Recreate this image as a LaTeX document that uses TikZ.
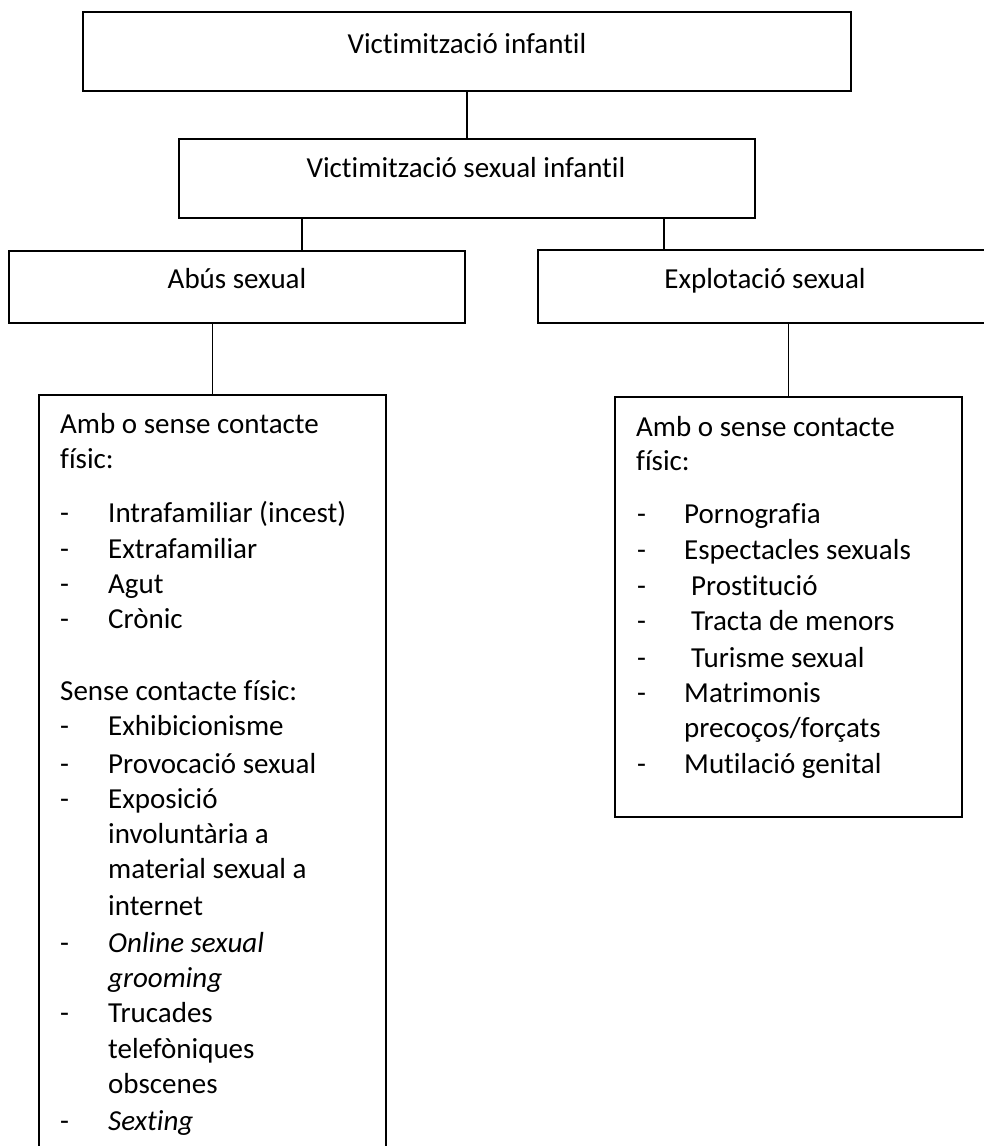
\documentclass[tikz,border=0pt]{standalone}
\usepackage{fontspec}
\setmainfont{Carlito}[Ligatures={NoCommon,TeX}]
\begin{document}
\begin{tikzpicture}[x=1pt,y=-1pt,
  boxnode/.style={draw=black, line width=1.4pt, rectangle, inner sep=0pt},
  conn/.style={draw=black, line width=1.2pt},
  txt/.style={anchor=base west, inner sep=0pt, font=\fontsize{29}{35.7}\selectfont},
  ctxt/.style={anchor=base, inner sep=0pt, font=\fontsize{29}{35.7}\selectfont}]
\useasboundingbox (0,0) rectangle (984,1146);
\clip (0,0) rectangle (984,1146);
% boxes
\node[boxnode, minimum width=768pt, minimum height=79pt] (top) at (467,51.5) {};
\node[boxnode, minimum width=576pt, minimum height=79pt] (sec) at (467,178.5) {};
\node[boxnode, minimum width=456pt, minimum height=72pt] (abus) at (237,287) {};
\node[boxnode, minimum width=470pt, minimum height=73pt] (expl) at (773,286.5) {};
\node[boxnode, minimum width=347pt, minimum height=785pt] (llA) at (212.5,787.5) {};
\node[boxnode, minimum width=347pt, minimum height=420pt] (llB) at (788.5,607) {};
% titles
\node[ctxt] (ttop) at (467,53) {Victimització infantil};
\node[ctxt] (tsec) at (466,177) {Victimització sexual infantil};
\node[ctxt] (tabus) at (237,288) {Abús sexual};
\node[ctxt] (texpl) at (765,288) {Explotació sexual};
% connectors
\coordinate (k1) at (302,0);
\coordinate (k2) at (664,0);
\draw[conn] (top.south) -- (sec.north);
\draw[conn] (k1 |- sec.south) -- (k1 |- abus.north);
\draw[conn] (k2 |- sec.south) -- (k2 |- expl.north);
\draw[conn] (llA.north |- abus.south) -- (llA.north);
\draw[conn] (llB.north |- expl.south) -- (llB.north);
% left list
\foreach \y/\x/\t [count=\i] in {
  433/60/{Amb o sense contacte},
  468/60/{físic:},
  522/108/{Intrafamiliar (incest)},
  558/108/{Extrafamiliar},
  593/108/{Agut},
  628/108/{Crònic},
  700/60/{Sense contacte físic:},
  735/108/{Exhibicionisme},
  773/108/{Provocació sexual},
  808/108/{Exposició},
  843/108/{involuntària a},
  878/108/{material sexual a},
  915/108/{internet},
  952/108/{\textit{Online sexual}},
  987/108/{\textit{grooming}},
  1022/108/{Trucades},
  1058/108/{telefòniques},
  1093/108/{obscenes},
  1130/108/{\textit{Sexting}}}
  \node[txt] (LA\i) at (\x,\y) {\t};
\foreach \y [count=\i] in {522,558,593,628,735,773,808,952,1022,1130}
  \node[txt] (LAd\i) at (60,\y) {-};
% right list
\foreach \y/\x/\t [count=\i] in {
  436/636/{Amb o sense contacte},
  470/636/{físic:},
  523/684/{Pornografia},
  559/684/{Espectacles sexuals},
  595/691/{Prostitució},
  630/691/{Tracta de menors},
  667/691/{Turisme sexual},
  702/684/{Matrimonis},
  737/684/{precoços/forçats},
  773/684/{Mutilació genital}}
  \node[txt] (LB\i) at (\x,\y) {\t};
\foreach \y [count=\i] in {523,559,595,630,667,702,773}
  \node[txt] (LBd\i) at (637,\y) {-};
\end{tikzpicture}
\end{document}
